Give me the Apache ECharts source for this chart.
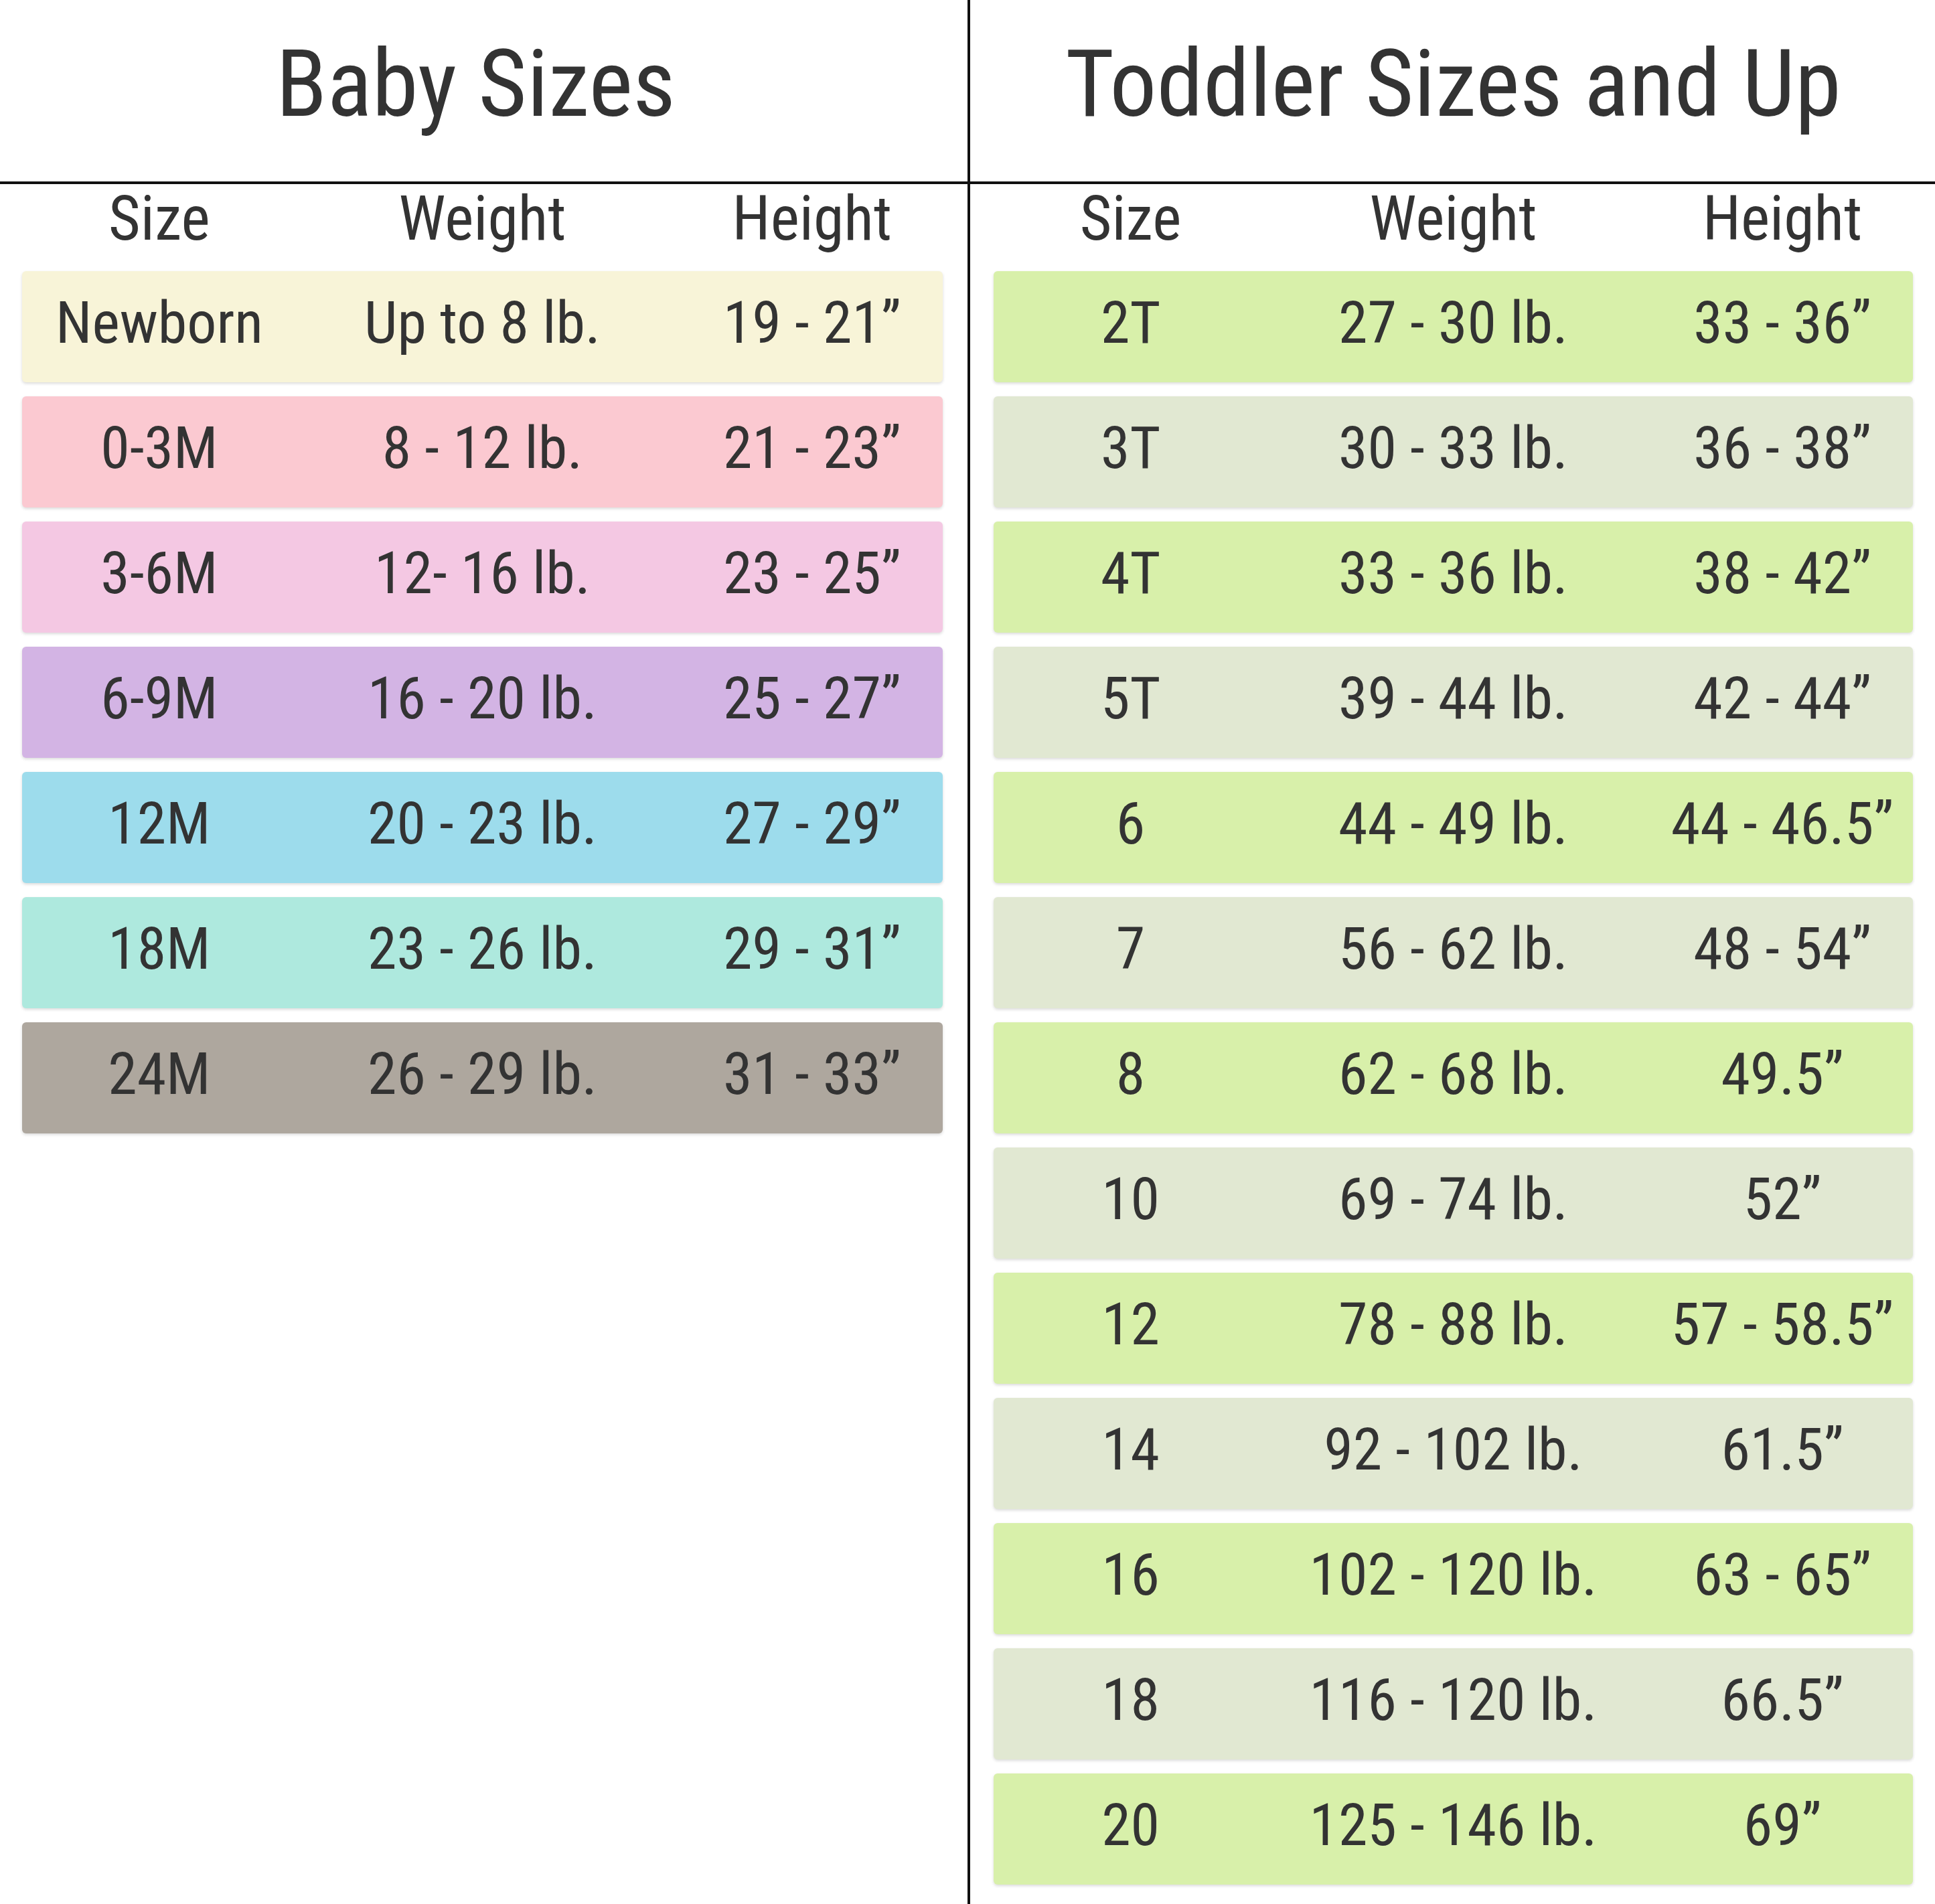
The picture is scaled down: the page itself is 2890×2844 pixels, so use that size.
<!DOCTYPE html>
<html><head><meta charset="utf-8">
<script src="https://cdn.jsdelivr.net/npm/echarts@6/dist/echarts.min.js"></script>
<style>html,body{margin:0;padding:0;background:#fff}#c{width:2890px;height:2844px}</style>
</head><body><div id="c"></div>
<script>
const babySizes = ['Newborn','0-3M','3-6M','6-9M','12M','18M','24M'];
const babyWeights = ['Up to 8 lb.','8 - 12 lb.','12- 16 lb.','16 - 20 lb.','20 - 23 lb.','23 - 26 lb.','26 - 29 lb.'];
const babyHeights = ['19 - 21”','21 - 23”','23 - 25”','25 - 27”','27 - 29”','29 - 31”','31 - 33”'];
const toddlerSizes = ['2T','3T','4T','5T','6','7','8','10','12','14','16','18','20'];
const toddlerWeights = ['27 - 30 lb.','30 - 33 lb.','33 - 36 lb.','39 - 44 lb.','44 - 49 lb.','56 - 62 lb.','62 - 68 lb.','69 - 74 lb.','78 - 88 lb.','92 - 102 lb.','102 - 120 lb.','116 - 120 lb.','125 - 146 lb.'];
const toddlerHeights = ['33 - 36”','36 - 38”','38 - 42”','42 - 44”','44 - 46.5”','48 - 54”','49.5”','52”','57 - 58.5”','61.5”','63 - 65”','66.5”','69”'];
const headers = ['Size','Weight','Height'];
const titles = ['Baby Sizes','Toddler Sizes and Up'];

const babyColors = ['#f8f4d8','#fbc9d1','#f4c8e3','#d3b4e4','#9ddcec','#aee9de','#aea79e'];
const toddlerColors = ['#d8f0aa','#e1e8d2'];
const FONT = "'Liberation Sans Narrow','Roboto Condensed','Liberation Sans',sans-serif";
const colFrac = [0.149, 0.50, 0.858];
const PITCH = 187, RH = 166, TOP = 405;

function mkSeries(gi, sizes, weights, heights, colorFn) {
  return {
    type: 'custom', xAxisIndex: gi, yAxisIndex: gi,
    data: sizes.map((s, i) => [0, i]),
    renderItem: function (params, api) {
      const i = api.value(1);
      const p = api.coord([0, i]);
      const cs = params.coordSys;
      const vals = [sizes[i], weights[i], heights[i]];
      const children = [{
        type: 'rect',
        shape: { x: cs.x, y: p[1] - RH / 2, width: cs.width, height: RH, r: 6 },
        style: { fill: colorFn(i), shadowBlur: 4, shadowColor: 'rgba(0,0,0,0.15)', shadowOffsetY: 2 }
      }];
      vals.forEach((v, k) => children.push({
        type: 'text',
        style: { text: v, x: cs.x + cs.width * colFrac[k], y: p[1] + 2, align: 'center', verticalAlign: 'middle',
          font: '88px ' + FONT, fill: '#333' }
      }));
      return { type: 'group', children };
    }
  };
}

const chart = echarts.init(document.getElementById('c'));
const gridL = { left: 33, width: 1375, top: TOP - (PITCH - RH) / 2, height: babySizes.length * PITCH };
const gridR = { left: 1484, width: 1373, top: TOP - (PITCH - RH) / 2, height: toddlerSizes.length * PITCH };
const headerTexts = [];
[[gridL, 0], [gridR, 1]].forEach(([g, gi]) => {
  headerTexts.push({ type: 'text', style: { text: titles[gi], x: g.left + g.width / 2 + (gi ? 0 : -10), y: 138, align: 'center', verticalAlign: 'middle', font: '140px ' + FONT, fill: '#333' } });
  headers.forEach((h, k) => headerTexts.push({ type: 'text', style: { text: h, x: g.left + g.width * colFrac[k], y: 335, align: 'center', verticalAlign: 'middle', font: '92px ' + FONT, fill: '#333' } }));
});
chart.setOption({
  animation: false,
  grid: [gridL, gridR],
  xAxis: [0, 1].map(i => ({ type: 'value', gridIndex: i, min: 0, max: 1, show: false })),
  yAxis: [
    { type: 'category', gridIndex: 0, data: babySizes, inverse: true, show: false },
    { type: 'category', gridIndex: 1, data: toddlerSizes, inverse: true, show: false }
  ],
  graphic: headerTexts.concat([
    { type: 'line', shape: { x1: 0, y1: 273, x2: 2890, y2: 273 }, style: { stroke: '#111', lineWidth: 4 } },
    { type: 'line', shape: { x1: 1447, y1: 0, x2: 1447, y2: 2844 }, style: { stroke: '#111', lineWidth: 4 } }
  ]),
  series: [
    mkSeries(0, babySizes, babyWeights, babyHeights, i => babyColors[i]),
    mkSeries(1, toddlerSizes, toddlerWeights, toddlerHeights, i => toddlerColors[i % 2])
  ]
});
</script></body></html>
